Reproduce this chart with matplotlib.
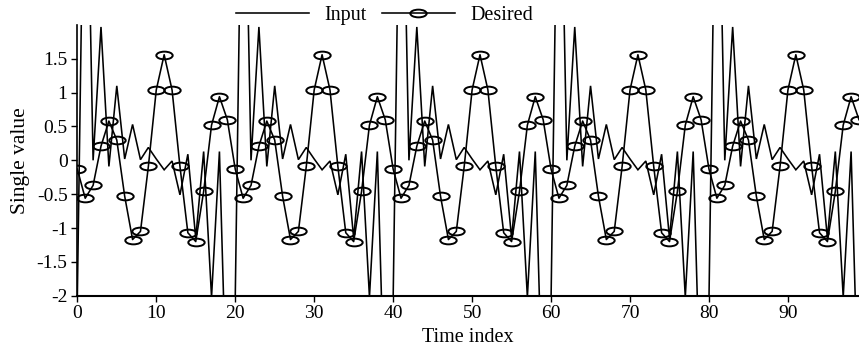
import matplotlib.pyplot as plt
from matplotlib.path import Path

plt.rcParams['font.family'] = 'Liberation Serif'
plt.rcParams['axes.unicode_minus'] = False

# values (both signals repeat every 20 samples)
time_index = list(range(100))

input_signal = [
    -2.05, 6.0, 0.0, 1.97, -0.09, 1.1, 0.02, 0.53, 0.01, 0.19,
    0.02, -0.14, -0.01, -0.51, 0.09, -1.15, 0.13, -2.02, 0.13, -4.0,
    -2.05, 6.0, 0.0, 1.97, -0.09, 1.1, 0.02, 0.53, 0.01, 0.19,
    0.02, -0.14, -0.01, -0.51, 0.09, -1.15, 0.13, -2.02, 0.13, -4.0,
    -2.05, 6.0, 0.0, 1.97, -0.09, 1.1, 0.02, 0.53, 0.01, 0.19,
    0.02, -0.14, -0.01, -0.51, 0.09, -1.15, 0.13, -2.02, 0.13, -4.0,
    -2.05, 6.0, 0.0, 1.97, -0.09, 1.1, 0.02, 0.53, 0.01, 0.19,
    0.02, -0.14, -0.01, -0.51, 0.09, -1.15, 0.13, -2.02, 0.13, -4.0,
    -2.05, 6.0, 0.0, 1.97, -0.09, 1.1, 0.02, 0.53, 0.01, 0.19,
    0.02, -0.14, -0.01, -0.51, 0.09, -1.15, 0.13, -2.02, 0.13, -4.0,
]

desired_signal = [
    -0.13, -0.56, -0.37, 0.21, 0.58, 0.30, -0.53, -1.17, -1.05, -0.09,
    1.04, 1.56, 1.04, -0.09, -1.07, -1.20, -0.46, 0.52, 0.94, 0.60,
    -0.13, -0.56, -0.37, 0.21, 0.58, 0.30, -0.53, -1.17, -1.05, -0.09,
    1.04, 1.56, 1.04, -0.09, -1.07, -1.20, -0.46, 0.52, 0.94, 0.60,
    -0.13, -0.56, -0.37, 0.21, 0.58, 0.30, -0.53, -1.17, -1.05, -0.09,
    1.04, 1.56, 1.04, -0.09, -1.07, -1.20, -0.46, 0.52, 0.94, 0.60,
    -0.13, -0.56, -0.37, 0.21, 0.58, 0.30, -0.53, -1.17, -1.05, -0.09,
    1.04, 1.56, 1.04, -0.09, -1.07, -1.20, -0.46, 0.52, 0.94, 0.60,
    -0.13, -0.56, -0.37, 0.21, 0.58, 0.30, -0.53, -1.17, -1.05, -0.09,
    1.04, 1.56, 1.04, -0.09, -1.07, -1.20, -0.46, 0.52, 0.94, 0.60,
]

x_ticks = [0, 10, 20, 30, 40, 50, 60, 70, 80, 90]
y_ticks = [-2, -1.5, -1, -0.5, 0, 0.5, 1, 1.5]
y_tick_labels = ['-2', '-1.5', '-1', '-0.5', '0', '0.5', '1', '1.5']

# flat ellipse marker
circ = Path.unit_circle()
ellipse = Path(circ.vertices * [1.0, 0.47], circ.codes)

fig = plt.figure(figsize=(8.59, 3.51), dpi=100)
ax = fig.add_axes([0.09, 0.1575, 0.91, 0.7715])

ax.plot(time_index, input_signal, color='black', lw=1.15,
        solid_joinstyle='miter', label='Input')
ax.plot(time_index, desired_signal, color='black', lw=1.15,
        marker=ellipse, markersize=11.8, markerfacecolor='none',
        markeredgecolor='black', markeredgewidth=1.4, label='Desired')

ax.set_xlim(0, 99)
ax.set_ylim(-2, 2)
ax.set_xticks(x_ticks)
ax.set_yticks(y_ticks)
ax.set_yticklabels(y_tick_labels)
ax.tick_params(direction='out', length=4, width=1, labelsize=14, pad=3)
ax.spines['top'].set_visible(False)
ax.spines['right'].set_visible(False)
ax.spines['left'].set_linewidth(1.2)
ax.spines['bottom'].set_linewidth(1.5)

ax.set_xlabel('Time index', fontsize=14.5, labelpad=4)
ax.set_ylabel('Single value', fontsize=15.5, labelpad=5)

fig.legend(loc='center', bbox_to_anchor=(0.448, 0.957), ncol=2,
           frameon=False, fontsize=14.5, handlelength=3.6,
           handletextpad=0.8, columnspacing=0.75)

fig.savefig('out.png', dpi=100)
